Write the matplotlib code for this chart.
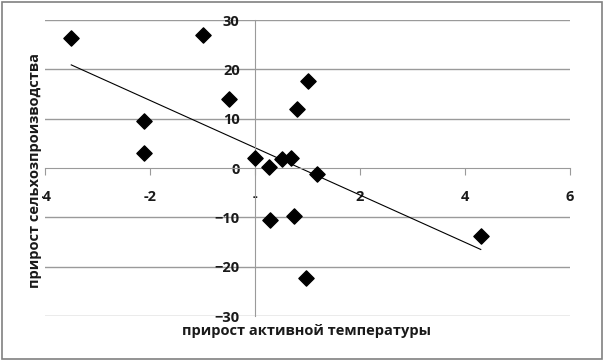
import numpy as np
import matplotlib
matplotlib.use("Agg")
import matplotlib.pyplot as plt
from matplotlib.patches import Rectangle

plt.rcParams['font.family'] = ['Open Sans', 'DejaVu Sans']

# data
temp_growth = [-3.50, -1.00, -2.11, -2.11, -0.50, 0.00, 0.27, 0.52, 0.69,
               0.80, 1.00, 1.19, 0.28, 0.74, 0.97, 4.30]
agro_growth = [26.4, 26.9, 9.6, 3.1, 14.0, 2.1, 0.3, 1.8, 2.1,
               12.0, 17.6, -1.2, -10.5, -9.8, -22.2, -13.8]
x_ticks = [-4, -2, 0, 2, 4, 6]
x_tick_labels = ['-4', '-2', '-', '2', '4', '6']
y_ticks = [-30, -20, -10, 0, 10, 20, 30]

fig = plt.figure(figsize=(6.03, 3.6), dpi=100)
ax = fig.add_axes([45 / 603, 44 / 360, 525 / 603, 296 / 360])
ax.set_xlim(-4, 6)
ax.set_ylim(-30, 30)

# horizontal grid
for yv in y_ticks:
    if yv != 0:
        ax.axhline(yv, color='#9a9a9a', lw=1.0, zorder=1)

# axes crossing at zero
for side in ['top', 'right']:
    ax.spines[side].set_visible(False)
ax.spines['left'].set_position(('data', 0))
ax.spines['bottom'].set_position(('data', 0))
ax.spines['left'].set_color('#9a9a9a')
ax.spines['bottom'].set_color('#9a9a9a')

ax.set_xticks(x_ticks)
ax.set_xticklabels(x_tick_labels)
ax.set_yticks(y_ticks)
ax.tick_params(axis='x', direction='out', length=5, color='#9a9a9a', pad=11,
               labelsize=10.5)
ax.tick_params(axis='y', direction='out', length=0, pad=11, labelsize=10.5)
for lab in ax.get_xticklabels() + ax.get_yticklabels():
    lab.set_fontweight('bold')
    lab.set_color('#1a1a1a')

ax.scatter(temp_growth, agro_growth, marker='D', s=60, color='black', zorder=3)

# linear trend
k, b = np.polyfit(temp_growth, agro_growth, 1)
xs = np.array([min(temp_growth), max(temp_growth)])
ax.plot(xs, k * xs + b, color='black', lw=0.8, zorder=2)

fig.text(35 / 603, 1 - 170 / 360, 'прирост сельхозпроизводства', rotation=90,
         ha='center', va='center', fontsize=10.5, fontweight='bold', color='#1a1a1a',
         bbox=dict(facecolor='white', edgecolor='none', pad=0))
fig.text(307 / 603, 1 - 331 / 360, 'прирост активной температуры',
         ha='center', va='center', fontsize=10.5, fontweight='bold', color='#1a1a1a')

fig.patches.append(Rectangle((1.5 / 603, 1.5 / 360), 600 / 603, 357 / 360,
                             transform=fig.transFigure, fill=False,
                             edgecolor='#808080', lw=1.2))

fig.savefig('out.png', dpi=100)
